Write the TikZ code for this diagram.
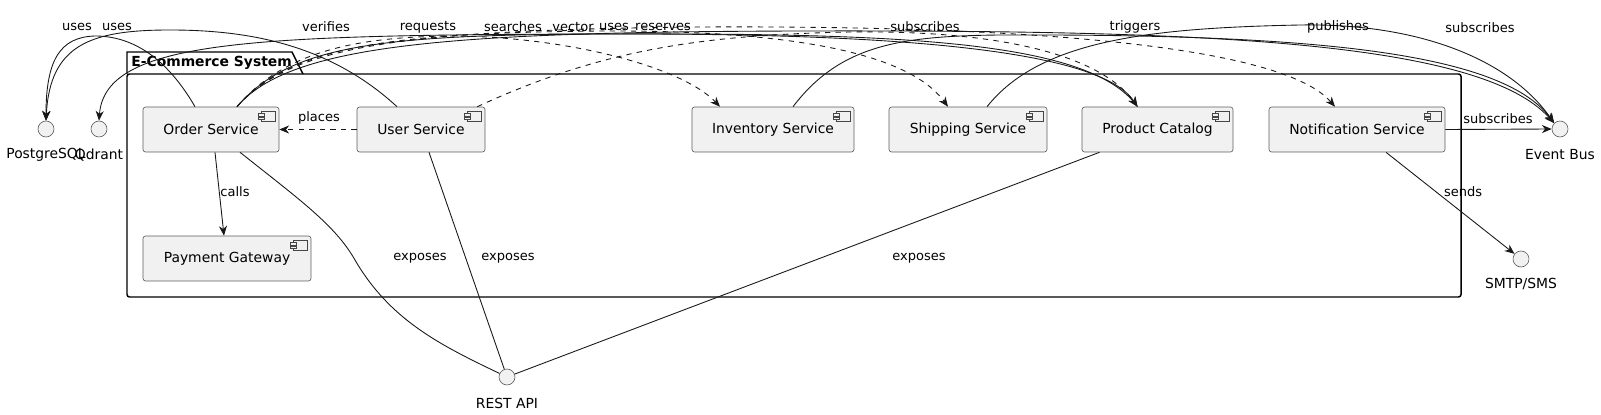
\documentclass[tikz,border=0pt]{standalone}
\usepackage{fontspec}
\setmainfont{DejaVu Sans}
\usetikzlibrary{arrows.meta,calc}
\definecolor{umlfill}{HTML}{F1F1F1}
\definecolor{umlline}{HTML}{181818}
\newcommand{\compfont}{\fontsize{7.9pt}{9pt}\selectfont}
\newcommand{\lblfont}{\fontsize{7.4pt}{9pt}\selectfont}
% small component glyph in the top right corner of a box
\newcommand{\compicon}[1]{%
  \draw[icon] ($(#1.north east)+(-18,5)$) rectangle ($(#1.north east)+(-4,15)$);
  \draw[icon] ($(#1.north east)+(-21,7)$) rectangle ($(#1.north east)+(-15,9.5)$);
  \draw[icon] ($(#1.north east)+(-21,10.5)$) rectangle ($(#1.north east)+(-15,13)$);}
\begin{document}
\begin{tikzpicture}[x=0.02cm, y=-0.02cm,
    every node/.style={font=\compfont},
    comp/.style={draw=umlline!70, fill=umlfill, line width=0.35pt, rounded corners=0.05cm,
                 minimum height=0.9cm, inner sep=0pt},
    icon/.style={draw=umlline!80, fill=umlfill, line width=0.35pt},
    iface/.style={circle, draw=umlline!70, fill=umlfill, line width=0.35pt, minimum size=0.32cm, inner sep=0pt},
    lbl/.style={font=\lblfont, inner sep=0pt},
    pkg/.style={draw=black, line width=0.85pt},
    link/.style={draw=umlline, line width=0.5pt},
    arr/.style={link, -{Stealth[length=5.6pt, width=4.6pt, inset=1.8pt]}},
    darr/.style={arr, dash pattern=on 3pt off 3pt}
]
  \useasboundingbox (0,0) rectangle (1601,415);

  % Paket
  \draw[pkg, rounded corners=0.05cm] (127,74) rectangle (1461,297);
  \draw[pkg] (127,74) -- (127,52) -- (292,52) -- (303,74);
  \node[anchor=west, font=\compfont\bfseries, inner sep=0pt] (pkgname) at (131,63) {E-Commerce System};

  % Komponenten
  \node[comp, minimum width=2.72cm] (order) at (211,129.5) {Order Service};
  \node[comp, minimum width=2.56cm] (user) at (421,129.5) {User Service};
  \node[comp, minimum width=3.36cm] (pay) at (227,258.5) {Payment Gateway};
  \node[comp, minimum width=3.24cm] (inv) at (773,129.5) {Inventory Service};
  \node[comp, minimum width=3.16cm] (ship) at (968,129.5) {Shipping Service};
  \node[comp, minimum width=3.02cm] (prod) at (1157.5,129.5) {Product Catalog};
  \node[comp, minimum width=3.52cm] (notif) at (1357,129.5) {Notification Service};
  \foreach \c in {order,user,pay,inv,ship,prod,notif} {\compicon{\c}}

  % Schnittstellen
  \node[iface] (pg) at (46,129) {};
  \node[iface] (qd) at (99,129) {};
  \node[iface] (bus) at (1560,129) {};
  \node[iface] (smtp) at (1521,259) {};
  \node[iface] (rest) at (507,377) {};
  \node (pgname) at (46,155) {PostgreSQL};
  \node (qdname) at (99,155) {Qdrant};
  \node (busname) at (1560,155) {Event Bus};
  \node (smtpname) at (1521,284) {SMTP/SMS};
  \node (restname) at (507,403) {REST API};

  % obere Bogen
  \draw[arr] ($(order.north)+(-16,0)$) .. controls (165,55) and (130,36) .. (95,36)
             .. controls (60,37) and (46,60) .. (pg.north);
  \draw[arr] ($(user.north)+(-24,0)$) .. controls (330,45) and (250,30) .. (170,30)
             .. controls (90,30) and (50,45) .. (pg.north);
  \draw[arr] ($(prod.north)+(-20,0)$) .. controls (1090,40) and (900,33) .. (600,34)
             .. controls (250,35) and (105,40) .. (qd.north);
  \draw[arr] ($(order.north)+(26,0)$) .. controls (290,45) and (380,35) .. (600,34)
             .. controls (900,33) and (1100,50) .. ($(prod.north)+(-20,0)$);
  \draw[darr] ($(order.north)+(26,0)$) .. controls (285,50) and (360,37) .. (450,36)
             .. controls (560,36) and (680,65) .. ($(inv.north)+(-53,0)$);
  \draw[darr] ($(order.north)+(26,0)$) .. controls (290,48) and (380,33) .. (600,31)
             .. controls (800,30) and (910,55) .. ($(ship.north)+(-20,0)$);
  \draw[darr] ($(user.north east)+(-8,0)$) .. controls (600,50) and (700,35) .. (850,32)
             .. controls (1000,30) and (1100,55) .. ($(prod.north)+(-20,0)$);
  \draw[darr] ($(order.north)+(26,0)$) .. controls (290,46) and (400,30) .. (700,27)
             .. controls (1100,25) and (1290,55) .. ($(notif.north)+(-22,0)$);
  \draw[arr] ($(inv.north)+(20,0)$) .. controls (840,45) and (900,36) .. (1000,35)
             .. controls (1300,34) and (1500,50) .. (bus.north west);
  \draw[arr] ($(order.north)+(26,0)$) .. controls (290,44) and (450,32) .. (800,31)
             .. controls (1200,30) and (1480,40) .. (bus.north west);
  \draw[arr] ($(ship.north)+(19,0)$) .. controls (1040,40) and (1150,28) .. (1300,25)
             .. controls (1420,23) and (1510,60) .. (bus.north west);

  \node[lbl] (lusesA) at (77,27) {uses};
  \node[lbl] (lusesB) at (117,27) {uses};
  \node[lbl] (lverifies) at (326,27) {verifies};
  \node[lbl] (lrequests) at (428,27) {requests};
  \node[lbl] (lsearches) at (513,27) {searches};
  \node[lbl] (lvector) at (573,27) {vector};
  \node[lbl] (lusesC) at (614,27) {uses};
  \node[lbl] (lreserves) at (663,27) {reserves};
  \node[lbl] (lsubsA) at (925,27) {subscribes};
  \node[lbl] (ltriggers) at (1135,27) {triggers};
  \node[lbl] (lpublishes) at (1338,27) {publishes};
  \node[lbl] (lsubsB) at (1480,28) {subscribes};

  % innere Verbindungen
  \draw[arr] ($(order.south)+(4,0)$) -- ($(pay.north)+(-3,0)$);
  \node[lbl] (lcalls) at (235,192) {calls};
  \draw[darr] (user.west) -- (order.east);
  \node[lbl] (lplaces) at (319,118) {places};
  \draw[arr] (notif.east) -- (bus.west);
  \node[lbl] (lsubsC) at (1498,119) {subscribes};
  \draw[arr] ($(notif.south)+(29,0)$) -- (smtp);
  \node[lbl] (lsends) at (1463,192) {sends};

  % REST API
  \draw[link] ($(order.south)+(29,0)$) .. controls (300,200) and (335,225) .. (355,260)
              .. controls (390,320) and (440,345) .. (rest);
  \draw[link] ($(user.south)+(8,0)$) -- (rest);
  \draw[link] ($(prod.south)+(-58,0)$) -- (rest);
  \node[lbl] (lexpA) at (420,258) {exposes};
  \node[lbl] (lexpB) at (508,258) {exposes};
  \node[lbl] (lexpC) at (919,258) {exposes};
\end{tikzpicture}
\end{document}
